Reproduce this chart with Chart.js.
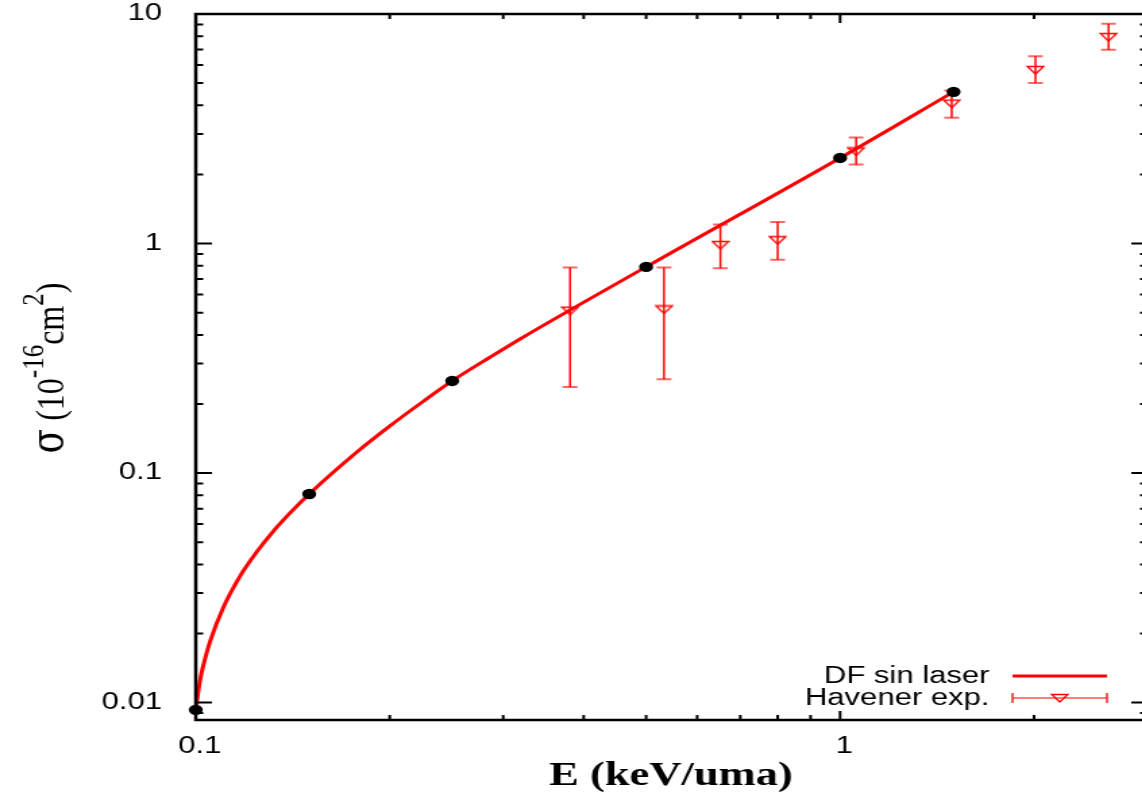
<!DOCTYPE html>
<html>
<head>
<meta charset="utf-8">
<script src="https://cdn.jsdelivr.net/npm/chart.js@4.4.1/dist/chart.umd.min.js"></script>
<style>
  html, body { margin: 0; padding: 0; background: #fff; overflow: hidden; }
  #wrap { width: 1142px; height: 794px; overflow: hidden; }
  /* el gráfico se dibuja estrecho y se estira en horizontal */
  #sigma-graphic { transform-origin: 0 0; transform: scaleX(1.35); }
</style>
</head>
<body>
<div id="wrap"><canvas id="sigma-graphic" width="852" height="794"></canvas></div>
<script>
// Puntos calculados DF (sin laser)
const dfE = [0.1, 0.15, 0.25, 0.5, 1, 1.5];
const dfSigma = [0.0093, 0.0811, 0.252, 0.791, 2.36, 4.58];

// Curva DF sin laser
const curvaE = [0.1, 0.1015, 0.1027, 0.1052, 0.1104, 0.1171, 0.1243, 0.1319, 0.1401, 0.15,
  0.1779, 0.2002, 0.2253, 0.25, 0.2862, 0.3187, 0.5, 1, 1.5];
const curvaSigma = [0.0093, 0.01245, 0.01445, 0.0184, 0.02604, 0.0355, 0.04527, 0.05572, 0.06701, 0.0811,
  0.1236, 0.1606, 0.2051, 0.252, 0.3196, 0.384, 0.791, 2.36, 4.58];

// Havener exp.
const havE = [0.381, 0.533, 0.652, 0.80, 1.059, 1.49, 2.01, 2.61];
const havSigma = [0.51, 0.516, 0.985, 1.034, 2.52, 4.07, 5.70, 7.93];
const havMin = [0.237, 0.256, 0.78, 0.849, 2.21, 3.53, 5.01, 6.98];
const havMax = [0.787, 0.787, 1.21, 1.24, 2.90, 4.64, 6.54, 9.06];

// Ticks
const xTicks = [0.1, 1];
const xLabels = ['0.1', '1'];
const yTicks = [0.01, 0.1, 1, 10];
const yLabels = ['0.01', '0.1', '1', '10'];

const ROJO = '#ff0000';

function Puntos(xs, ys) {
  return xs.map((x, i) => ({ x: x, y: ys[i] }));
}

// triangulo hacia abajo (sin relleno)
function Triangulo() {
  const c = document.createElement('canvas');
  c.width = 14; c.height = 10;
  const g = c.getContext('2d');
  g.strokeStyle = ROJO;
  g.lineWidth = 1.3;
  g.beginPath();
  g.moveTo(1, 1.5); g.lineTo(13, 1.5); g.lineTo(7, 9); g.closePath();
  g.stroke();
  return c;
}

// marcas menores 2..9 de cada decada
function Menores(min, max) {
  const out = [];
  for (let d = Math.floor(Math.log10(min)); d <= Math.ceil(Math.log10(max)); d++) {
    for (let k = 2; k <= 9; k++) {
      const v = k * Math.pow(10, d);
      if (v > min && v < max) out.push(v);
    }
  }
  return out;
}

function SinPadding(s) {
  s.paddingTop = 0; s.paddingBottom = 0; s.paddingLeft = 0; s.paddingRight = 0;
}

const marco = {
  id: 'marco',
  beforeDatasetsDraw(chart) {
    const { ctx, scales: { x, y } } = chart;
    ctx.save();
    havE.forEach((e, i) => {
      const px = x.getPixelForValue(e);
      const top = y.getPixelForValue(havMax[i]);
      const bot = y.getPixelForValue(havMin[i]);
      ctx.strokeStyle = ROJO;
      ctx.lineWidth = 1.5;
      ctx.beginPath(); ctx.moveTo(px, top); ctx.lineTo(px, bot); ctx.stroke();
      ctx.strokeStyle = 'rgba(255,0,0,0.6)';
      ctx.lineWidth = 2;
      ctx.beginPath();
      ctx.moveTo(px - 5.5, top); ctx.lineTo(px + 5.5, top);
      ctx.moveTo(px - 5.5, bot); ctx.lineTo(px + 5.5, bot);
      ctx.stroke();
    });
    ctx.restore();
  },
  afterDraw(chart) {
    const { ctx, chartArea: a, scales: { x, y } } = chart;
    ctx.save();

    // marcas de los ejes (hacia dentro)
    ctx.strokeStyle = '#000';
    ctx.lineWidth = 2;
    ctx.beginPath();
    const marcaX = (v, len) => {
      const px = x.getPixelForValue(v);
      ctx.moveTo(px, a.bottom); ctx.lineTo(px, a.bottom - len);
      ctx.moveTo(px, a.top); ctx.lineTo(px, a.top + len);
    };
    const marcaY = (v, len) => {
      const py = y.getPixelForValue(v);
      ctx.moveTo(a.left, py); ctx.lineTo(a.left + len, py);
      ctx.moveTo(a.right, py); ctx.lineTo(a.right - len, py);
    };
    xTicks.forEach(v => marcaX(v, 9));
    Menores(x.min, x.max).forEach(v => marcaX(v, 5));
    yTicks.forEach(v => marcaY(v, 12));
    Menores(y.min, y.max).forEach(v => marcaY(v, 5.5));
    ctx.stroke();

    // borde
    ctx.lineWidth = 2.5;
    ctx.strokeRect(a.left, a.top, a.right - a.left, a.bottom - a.top);

    // leyenda
    ctx.fillStyle = '#000';
    ctx.font = '23px "Liberation Sans"';
    ctx.textAlign = 'right';
    ctx.textBaseline = 'middle';
    ctx.fillText('DF sin laser', 733, 677);
    ctx.fillText('Havener exp.', 733, 699);
    ctx.strokeStyle = ROJO;
    ctx.lineWidth = 3;
    ctx.beginPath(); ctx.moveTo(750, 676); ctx.lineTo(820, 676); ctx.stroke();
    ctx.strokeStyle = 'rgba(255,0,0,0.5)';
    ctx.lineWidth = 2;
    ctx.beginPath(); ctx.moveTo(750, 698); ctx.lineTo(820, 698); ctx.stroke();
    ctx.strokeStyle = ROJO;
    ctx.lineWidth = 1.3;
    ctx.beginPath();
    ctx.moveTo(750, 693); ctx.lineTo(750, 703);
    ctx.moveTo(820, 693); ctx.lineTo(820, 703);
    ctx.stroke();
    ctx.drawImage(triangulo, 785 - 7, 698 - 5);

    // titulos de los ejes
    ctx.textAlign = 'center';
    ctx.textBaseline = 'alphabetic';
    ctx.font = 'bold 33px "Liberation Serif"';
    ctx.fillText('E (keV/uma)', 497, 785);

    const grande = '32px "Liberation Serif"';
    const chica = '25px "Liberation Serif"';
    const partes = [['σ', '36px "DejaVu Serif"', 0], [' (10', grande, 0], ['-16', chica, -16],
      ['cm', grande, 0], ['2', chica, -16], [')', grande, 0]];
    ctx.translate(46.5, 368);
    ctx.rotate(-Math.PI / 2);
    ctx.scale(1, 0.92);
    ctx.textAlign = 'left';
    let w = 0;
    partes.forEach(p => { ctx.font = p[1]; w += ctx.measureText(p[0]).width; });
    let cx = -w / 2;
    partes.forEach(p => {
      ctx.font = p[1];
      ctx.fillText(p[0], cx, p[2]);
      cx += ctx.measureText(p[0]).width;
    });
    ctx.restore();
  }
};

const triangulo = Triangulo();
const fuenteTicks = { family: '"Liberation Sans"', size: 23 };

const data = {
  datasets: [
    {
      label: 'DF',
      data: Puntos(dfE, dfSigma),
      showLine: false,
      pointStyle: 'circle',
      pointRadius: 5.2,
      pointBackgroundColor: '#000',
      pointBorderWidth: 0,
      clip: false,
      order: 0
    },
    {
      label: 'DF sin laser',
      data: Puntos(curvaE, curvaSigma),
      showLine: true,
      borderColor: ROJO,
      borderWidth: 3,
      pointRadius: 0,
      cubicInterpolationMode: 'monotone',
      order: 1
    },
    {
      label: 'Havener exp.',
      data: Puntos(havE, havSigma),
      showLine: false,
      pointStyle: triangulo,
      pointRadius: 7,
      order: 2
    }
  ]
};

const config = {
  type: 'scatter',
  data: data,
  options: {
    responsive: false,
    animation: false,
    devicePixelRatio: 1,
    layout: { autoPadding: false, padding: { top: 14, right: 2, left: 0, bottom: 0 } },
    plugins: { legend: { display: false }, tooltip: { enabled: false } },
    scales: {
      x: {
        type: 'logarithmic',
        min: 0.1,
        max: 3,
        afterBuildTicks: s => { s.ticks = xTicks.map(v => ({ value: v })); },
        afterFit: s => { s.height = 74; SinPadding(s); },
        grid: { display: false },
        border: { display: false },
        ticks: {
          font: fuenteTicks, color: '#000', padding: 5, labelOffset: 3,
          maxRotation: 0, autoSkip: false,
          callback: (v, i) => xLabels[i]
        }
      },
      y: {
        type: 'logarithmic',
        min: 0.0084,
        max: 10,
        afterBuildTicks: s => { s.ticks = yTicks.map(v => ({ value: v })); },
        afterFit: s => { s.width = 145; SinPadding(s); },
        grid: { display: false },
        border: { display: false },
        ticks: {
          font: fuenteTicks, color: '#000', padding: 17,
          autoSkip: false,
          callback: (v, i) => yLabels[i]
        }
      }
    }
  },
  plugins: [marco]
};

window.addEventListener('DOMContentLoaded', () => {
  const ctx = document.getElementById('sigma-graphic').getContext('2d');
  new Chart(ctx, config);
});
</script>
</body>
</html>
